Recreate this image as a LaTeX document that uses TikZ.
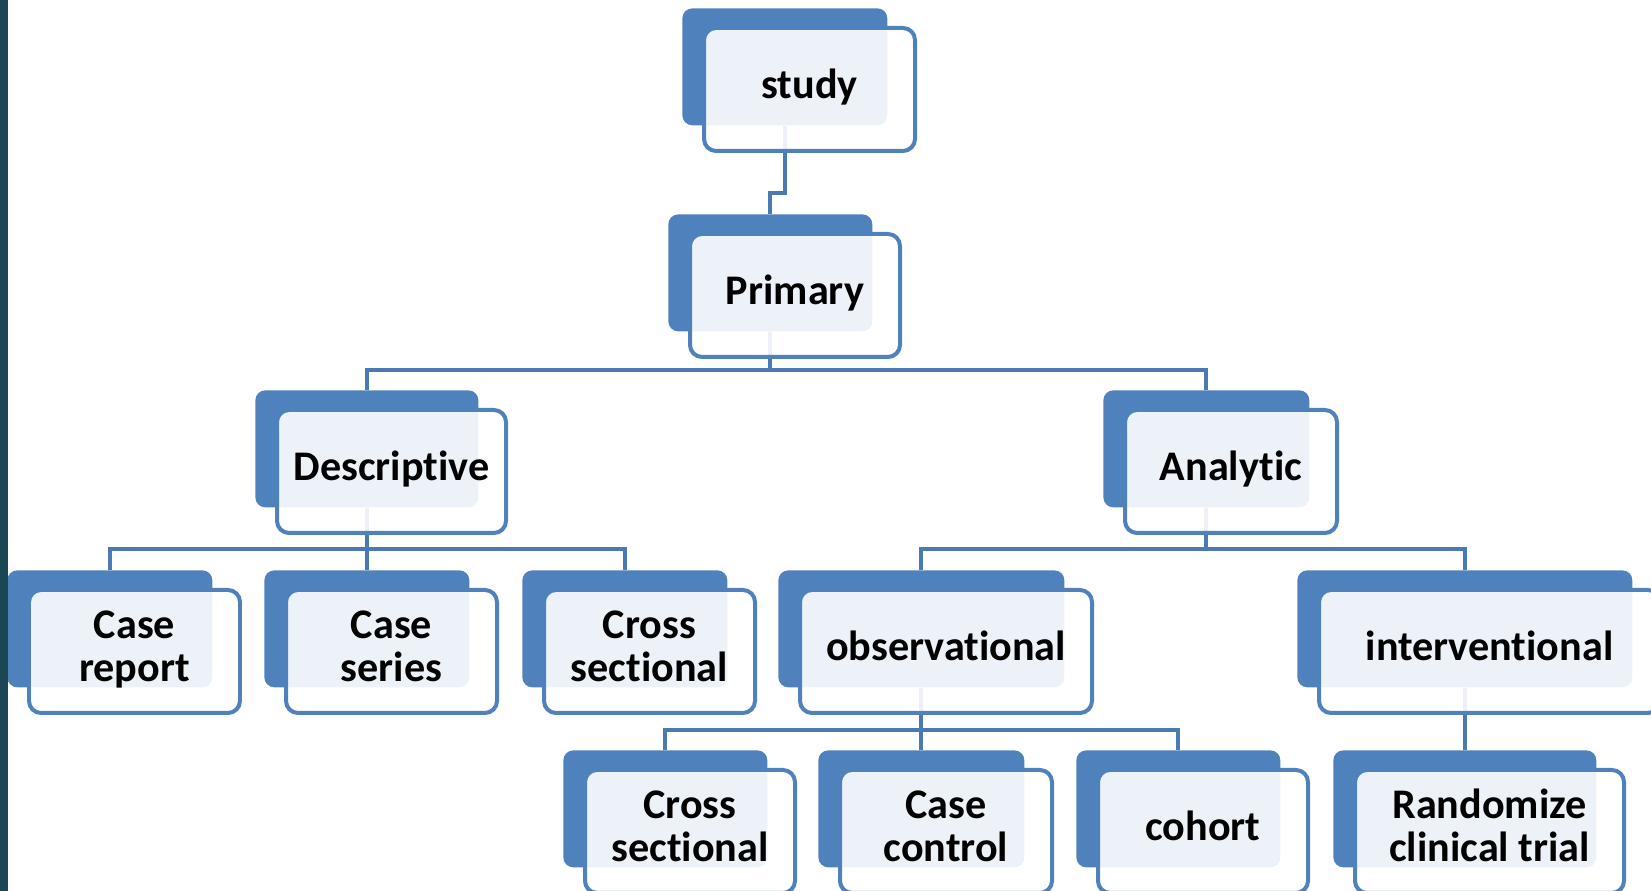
\documentclass[tikz,border=0pt]{standalone}
\usepackage{fontspec}
\setmainfont{Carlito}[Ligatures=NoCommon]
\usepackage{tikz}

\definecolor{accentblue}{HTML}{4F81BD}
\definecolor{linkblue}{HTML}{4A7AB5}
\definecolor{edgeteal}{HTML}{1B4654}

\tikzset{
  backbox/.style={rectangle, rounded corners=0.2cm, fill=accentblue,
    anchor=north west, minimum height=2.34cm, inner sep=0pt},
  frontbox/.style={rectangle, rounded corners=0.24cm, draw=accentblue,
    line width=0.08cm, fill=white, fill opacity=0.9, text opacity=1,
    anchor=north west, minimum height=2.46cm, align=center, inner sep=0pt,
    font=\fontsize{24}{24.5}\selectfont\bfseries},
  link/.style={draw=linkblue, line width=0.08cm},
}

\begin{document}
\begin{tikzpicture}[x=0.02cm, y=-0.02cm]
    \useasboundingbox (0,0) rectangle (1651,891);

    % back shapes
    \foreach \name/\xx/\yy/\ww in {study/682/8/205, primary/668/214/204,
      descr/255/390/223, analytic/1103/390/206,
      casereport/7/570/205, caseseries/264/570/205, crossa/522/570/205,
      observ/778/570/286, interv/1297/570/335,
      crossb/563/750/204, casecontrol/818/750/206, cohort/1076/750/204,
      rct/1333/750/263}
      \node[backbox, minimum width=\ww*0.02cm] (\name-b) at (\xx,\yy) {};

    % connectors
    \draw[link] (study-b.south) -- ++(0,67) -| (primary-b.north);
    \draw[link] (primary-b.south) -- ++(0,38) coordinate (pj);
    \draw[link] (descr-b.north) |- (pj) -| (analytic-b.north);
    \draw[link] (descr-b.south) -- ++(0,41) coordinate (dj);
    \draw[link] (casereport-b.north) |- (dj) -| (crossa-b.north);
    \draw[link] (dj) -- (caseseries-b.north);
    \draw[link] (analytic-b.south) -- ++(0,41) coordinate (aj);
    \draw[link] (observ-b.north) |- (aj) -| (interv-b.north);
    \draw[link] (observ-b.south) -- ++(0,42) coordinate (oj);
    \draw[link] (crossb-b.north) |- (oj) -| (cohort-b.north);
    \draw[link] (oj) -- (casecontrol-b.north);
    \draw[link] (interv-b.south) -- (rct-b.north);

    % front shapes
    \foreach \name/\ww/\txt in {study/205/study, primary/204/Primary,
      descr/223/Descriptive, analytic/206/Analytic,
      casereport/205/Case\\report, caseseries/205/Case\\series,
      crossa/205/Cross\\sectional, observ/286/observational,
      interv/335/interventional, crossb/204/Cross\\sectional,
      casecontrol/206/Case\\control, cohort/204/cohort,
      rct/263/Randomize\\clinical trial}
      \node[frontbox, minimum width=\ww*0.02cm+0.12cm] (\name)
        at ([shift={(20,18)}]\name-b.north west)
        {\raisebox{0.06cm}{\begin{tabular}{@{}c@{}}\txt\end{tabular}}};

    \fill[edgeteal] (0,0) rectangle (8,891);
\end{tikzpicture}
\end{document}
